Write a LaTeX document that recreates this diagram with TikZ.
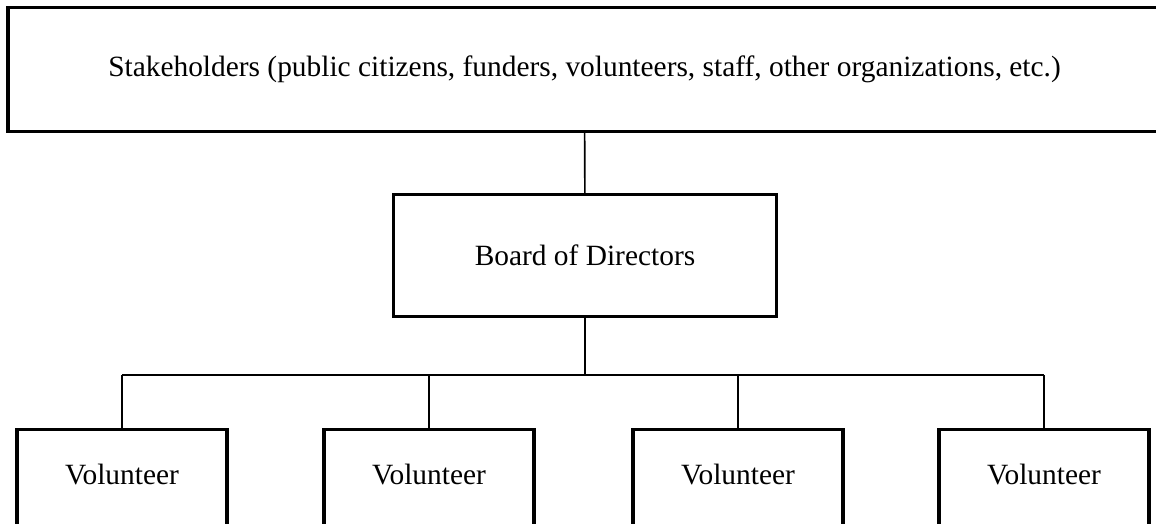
\documentclass[tikz,border=0pt]{standalone}
\usepackage{fontspec}
\setmainfont{Liberation Serif}
\usepackage{tikz}
\usetikzlibrary{positioning}

\begin{document}
\begin{tikzpicture}[
  x=1pt, y=-1pt,
  font=\fontsize{29.4pt}{34pt}\selectfont,
  org/.style={draw,line width=3.3pt,inner sep=0pt},
  vol/.style={draw,line width=3.3pt,anchor=north,minimum width=210pt,
    text height=20pt,text depth=90pt,inner xsep=0pt,inner ysep=34.5pt},
  link/.style={line width=1.6pt}]
\clip (0,0) rectangle (1156,523);
% stakeholders and board
\node[org,minimum width=1153pt,minimum height=124pt] (stake) at (584.5,69.5)
  {Stakeholders (public citizens, funders, volunteers, staff, other organizations, etc.)};
\node[org,minimum width=383pt,minimum height=122pt] (board) at (585,255.5) {Board of Directors};
\draw[link] (stake) -- (board);
% volunteers row
\node[vol] (v1) at (122,428) {Volunteer};
\node[vol] (v2) at (429,428) {Volunteer};
\node[vol] (v3) at (738,428) {Volunteer};
\node[vol] (v4) at (1044,428) {Volunteer};
\coordinate (bus) at (585,375);
\draw[link] (board) -- (bus);
\draw[link] (v1.north |- bus) -- (v4.north |- bus);
\foreach \v in {v1,v2,v3,v4} \draw[link] (\v.north) -- (\v.north |- bus);
\end{tikzpicture}
\end{document}
